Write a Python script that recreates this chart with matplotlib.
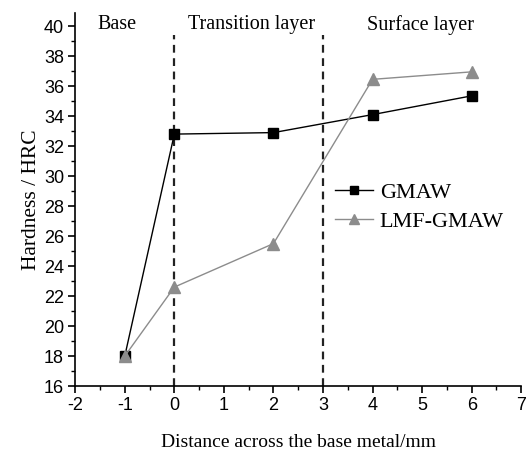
import matplotlib
matplotlib.use('Agg')
import matplotlib.pyplot as plt
from matplotlib.ticker import MultipleLocator

plt.rcParams['axes.unicode_minus'] = False

# Dados
distancia = [-1, 0, 2, 4, 6]
dureza_gmaw = [18.0, 32.8, 32.9, 34.1, 35.35]
dureza_lmf = [18.0, 22.6, 25.5, 36.45, 36.95]
limites = [0, 3]
zonas = ['Base', 'Transition layer', 'Surface layer']
zonas_x = [-1.15, 1.55, 4.97]

fig = plt.figure(figsize=(5.26, 4.5), dpi=100)
ax = fig.add_axes([0.143, 0.142, 0.848, 0.83])

ax.plot(distancia, dureza_gmaw, '-s', color='black', linewidth=1,
        markersize=7, label='GMAW')
ax.plot(distancia, dureza_lmf, '-^', color='#8c8c8c', linewidth=1,
        markersize=8, label='LMF-GMAW')

for xv in limites:
    ax.plot([xv, xv], [16, 39.4], '--', color='#222222', linewidth=1.6,
            dashes=(3.5, 2.5), zorder=1)

for nome, xz in zip(zonas, zonas_x):
    ax.text(xz, 40.1, nome, ha='center', va='center', fontsize=14.5,
            family='Liberation Serif')

ax.set_xlim(-2, 7)
ax.set_ylim(16, 40.9)
ax.xaxis.set_major_locator(MultipleLocator(1))
ax.xaxis.set_minor_locator(MultipleLocator(0.5))
ax.yaxis.set_minor_locator(MultipleLocator(1))
ax.set_yticks(range(16, 41, 2))

for s in ['top', 'right']:
    ax.spines[s].set_visible(False)
for s in ['left', 'bottom']:
    ax.spines[s].set_linewidth(1.2)

ax.tick_params(which='major', direction='out', length=5, width=1.2,
               labelsize=13, pad=3)
ax.tick_params(which='minor', direction='out', length=3, width=1)
for lab in ax.get_xticklabels() + ax.get_yticklabels():
    lab.set_family('Liberation Sans')

ax.set_xlabel('Distance across the base metal/mm', fontsize=14,
              family='Liberation Serif', labelpad=14)
ax.set_ylabel('Hardness / HRC', fontsize=15.5, family='Liberation Serif',
              labelpad=2)

ax.legend(loc='center left', bbox_to_anchor=(0.583, 0.479), frameon=False,
          prop={'family': 'Liberation Serif', 'size': 16},
          borderpad=0, borderaxespad=0, markerscale=0.85,
          handlelength=1.7, handletextpad=0.3, labelspacing=0.4)

plt.savefig('out.png', dpi=100)
